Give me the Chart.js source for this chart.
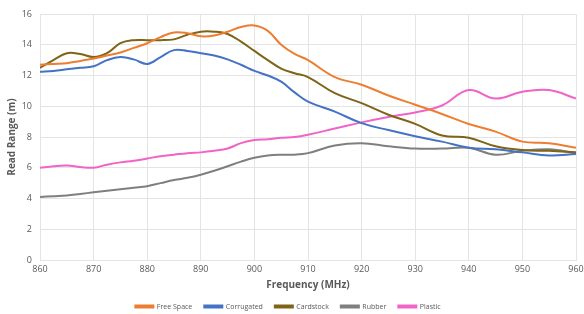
<!DOCTYPE html>
<html>
<head>
<meta charset="utf-8">
<script src="https://cdn.jsdelivr.net/npm/chart.js@4"></script>
<style>
  html, body { margin: 0; padding: 0; background: #fff; }
  #wrap { width: 584px; height: 314px; }
</style>
</head>
<body>
<div id="wrap"><canvas id="rangeChart"></canvas></div>
<script>
// frequency (MHz) and read range (m)
const frequencies = [860, 862.5, 865, 867.5, 870, 872.5, 875, 877.5, 880, 882.5, 885, 887.5, 890, 892.5, 895, 897.5,
    900, 902.5, 905, 907.5, 910, 915, 920, 925, 930, 935, 940, 945, 950, 955, 960];

const freeSpace = [12.7, 12.75, 12.8, 12.95, 13.1, 13.3, 13.5, 13.8, 14.1, 14.5, 14.8, 14.75, 14.55, 14.6, 14.85, 15.15,
    15.25, 14.9, 14.0, 13.4, 13.0, 11.9, 11.4, 10.7, 10.1, 9.5, 8.85, 8.35, 7.7, 7.6, 7.3];
const corrugated = [12.25, 12.3, 12.4, 12.5, 12.6, 13.0, 13.2, 13.05, 12.75, 13.2, 13.65, 13.6, 13.45, 13.3, 13.05, 12.7,
    12.3, 12.0, 11.6, 10.9, 10.3, 9.65, 8.9, 8.45, 8.05, 7.7, 7.3, 7.2, 7.0, 6.8, 6.9];
const cardstock = [12.5, 13.0, 13.45, 13.4, 13.2, 13.45, 14.1, 14.3, 14.3, 14.3, 14.35, 14.65, 14.85, 14.85, 14.7, 14.2,
    13.6, 13.0, 12.45, 12.15, 11.9, 10.85, 10.2, 9.45, 8.85, 8.1, 7.95, 7.4, 7.15, 7.1, 7.0];
const rubber = [4.1, 4.15, 4.2, 4.3, 4.4, 4.5, 4.6, 4.7, 4.8, 5.0, 5.2, 5.35, 5.55, 5.8, 6.1, 6.4,
    6.65, 6.8, 6.85, 6.85, 6.95, 7.45, 7.6, 7.4, 7.25, 7.25, 7.3, 6.85, 7.1, 7.2, 6.95];
const plastic = [6.0, 6.1, 6.15, 6.05, 6.0, 6.2, 6.35, 6.45, 6.6, 6.75, 6.85, 6.95, 7.0, 7.1, 7.25, 7.6,
    7.8, 7.85, 7.95, 8.0, 8.15, 8.55, 8.95, 9.3, 9.6, 10.05, 11.05, 10.5, 10.95, 11.05, 10.5];

const seriesNames = ['Free Space', 'Corrugated', 'Cardstock', 'Rubber', 'Plastic'];
const seriesColors = ['#ed7d31', '#4472c4', '#7f6417', '#7f7f7f', '#f064c8'];
const seriesValues = [freeSpace, corrugated, cardstock, rubber, plastic];

const textColor = '#595959';
const gridColor = '#e4e4e4';
const fontFamily = '"Open Sans", "Liberation Sans", sans-serif';

const datasets = seriesNames.map((name, i) => ({
    label: name,
    data: frequencies.map((f, j) => ({ x: f, y: seriesValues[i][j] })),
    borderColor: seriesColors[i],
    backgroundColor: seriesColors[i],
    borderWidth: 2,
    pointRadius: 0,
    tension: 0.4,
    fill: false
}));

new Chart(document.getElementById('rangeChart').getContext('2d'), {
    type: 'line',
    data: { datasets: datasets },
    options: {
        responsive: true,
        maintainAspectRatio: false,
        animation: false,
        layout: { padding: { left: 0, right: 8, top: 14, bottom: -6 } },
        scales: {
            x: {
                type: 'linear',
                min: 860,
                max: 960,
                ticks: { stepSize: 10, color: textColor, font: { family: fontFamily, size: 9 }, padding: 4 },
                grid: { color: gridColor, drawTicks: false },
                border: { color: gridColor },
                title: { display: true, text: 'Frequency (MHz)', color: textColor,
                    font: { family: fontFamily, size: 10, weight: 'bold' }, padding: { top: 2, bottom: 0 } },
                afterFit: scale => { scale.height = 31; scale.paddingRight = 0; }
            },
            y: {
                min: 0,
                max: 16,
                ticks: { stepSize: 2, color: textColor, font: { family: fontFamily, size: 9 }, padding: 8 },
                grid: { color: gridColor, drawTicks: false },
                border: { color: gridColor },
                title: { display: true, text: 'Read Range (m)', color: textColor,
                    font: { family: fontFamily, size: 10, weight: 'bold' }, padding: { top: 6, bottom: 0 } },
                afterFit: scale => { scale.width = 40; }
            }
        },
        plugins: {
            legend: {
                position: 'bottom',
                labels: {
                    color: textColor,
                    font: { family: fontFamily, size: 7 },
                    boxWidth: 18,
                    boxHeight: 2,
                    padding: 12
                }
            },
            tooltip: { enabled: false }
        }
    }
});
</script>
</body>
</html>
